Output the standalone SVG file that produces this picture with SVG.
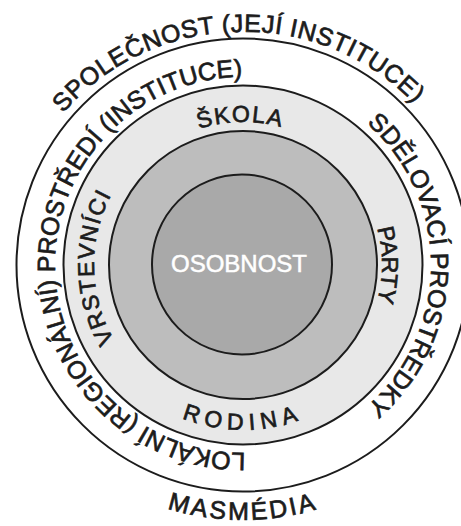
<svg xmlns="http://www.w3.org/2000/svg" xmlns:xlink="http://www.w3.org/1999/xlink" width="461" height="526" viewBox="0 0 461 526">
  <style>
    .ring { stroke: #1c1c1c; stroke-width: 2; }
    .lbl { font-family: "Liberation Sans", Arial, sans-serif; fill: #1c1c1c; stroke: #1c1c1c; stroke-width: 0.7; text-anchor: middle; }
    .outer { font-size: 25px; }
    .inner { font-size: 23px; }
    .core { font-family: "Liberation Sans", Arial, sans-serif; font-size: 24px; fill: #ffffff; stroke: #ffffff; stroke-width: 0.5; text-anchor: middle; }
  </style>
  <defs>
    <path id="p-spol" d="M249.1,497.9 A233,233 0 1 1 236.9,32.1 A233,233 0 1 1 249.1,497.9"/>
    <path id="p-lok" d="M431,263.4 A188,188 0 1 1 55,266.6 A188,188 0 1 1 431,263.4"/>
    <path id="p-sdel" d="M55,265 A188,188 0 1 1 431,265 A188,188 0 1 1 55,265"/>
    <path id="p-skola" d="M245.5,408 A143,143 0 1 1 240.5,122 A143,143 0 1 1 245.5,408"/>
    <path id="p-party" d="M104,265 A139,139 0 1 1 382,265 A139,139 0 1 1 104,265"/>
    <path id="p-vrst" d="M392,262.4 A149,149 0 1 1 94,267.6 A149,149 0 1 1 392,262.4"/>
    <path id="p-rodina" d="M243,100 A165,165 0 1 0 243,430 A165,165 0 1 0 243,100"/>
    <path id="p-masm" d="M243,10 A255,255 0 1 0 243,520 A255,255 0 1 0 243,10"/>
  </defs>
  <rect width="461" height="526" fill="#ffffff"/>

  <g id="spolecnost">
    <circle class="ring" cx="243" cy="265" r="226.5" fill="#ffffff"/>
    <text class="lbl outer" letter-spacing="0.5"><textPath href="#p-spol" xlink:href="#p-spol" startOffset="50%">SPOLEČNOST (JEJÍ INSTITUCE)</textPath></text>
    <text class="lbl outer" letter-spacing="2.6"><textPath href="#p-masm" xlink:href="#p-masm" startOffset="50%">MASMÉDIA</textPath></text>
  </g>

  <g id="lokalni-prostredi">
    <circle class="ring" cx="243" cy="265" r="179.5" fill="#e8e8e8"/>
    <text class="lbl outer"><textPath href="#p-lok" xlink:href="#p-lok" startOffset="50%">LOKÁLNÍ (REGIONÁLNÍ) PROSTŘEDÍ (INSTITUCE)</textPath></text>
    <text class="lbl outer"><textPath href="#p-sdel" xlink:href="#p-sdel" startOffset="50%">SDĚLOVACÍ PROSTŘEDKY</textPath></text>
  </g>

  <g id="skola-rodina">
    <circle class="ring" cx="243" cy="265" r="134" fill="#bdbdbd"/>
    <text class="lbl inner" letter-spacing="1.6"><textPath href="#p-skola" xlink:href="#p-skola" startOffset="50%">ŠKOLA</textPath></text>
    <text class="lbl inner"><textPath href="#p-party" xlink:href="#p-party" startOffset="50%">PARTY</textPath></text>
    <text class="lbl inner" letter-spacing="1.5"><textPath href="#p-vrst" xlink:href="#p-vrst" startOffset="50%">VRSTEVNÍCI</textPath></text>
    <text class="lbl inner" letter-spacing="6"><textPath href="#p-rodina" xlink:href="#p-rodina" startOffset="50%">RODINA</textPath></text>
  </g>

  <g id="osobnost">
    <circle class="ring" cx="242" cy="264.5" r="90" fill="#a9a9a9"/>
    <text class="core" x="239" y="271.5">OSOBNOST</text>
  </g>
</svg>
